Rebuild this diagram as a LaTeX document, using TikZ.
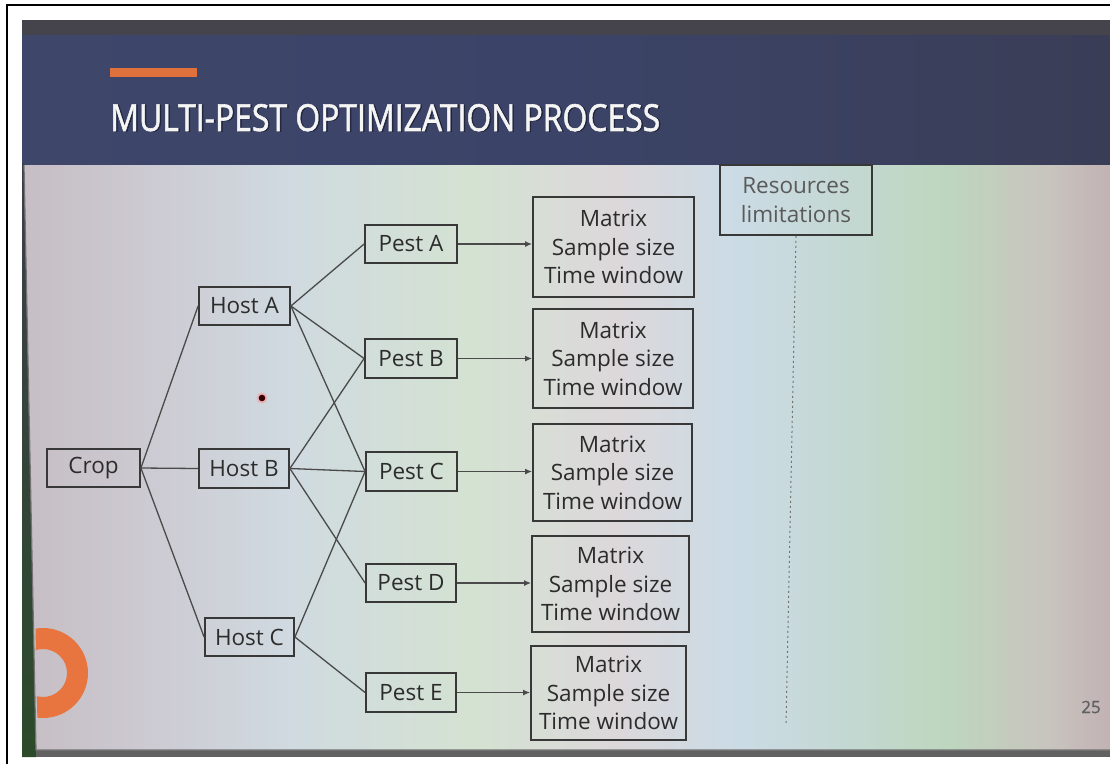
\documentclass[tikz,border=0pt]{standalone}
\usepackage{fontspec}
\setmainfont{Open Sans}
\newfontfamily\titlefont{Open Sans}[FakeBold=1.6]
\newfontfamily\numfont{Open Sans}[FakeBold=1.2]
\usetikzlibrary{arrows.meta}

% colours
\definecolor{frameblack}{HTML}{000000}
\definecolor{hdrtop}{HTML}{45434C}
\definecolor{hdrA}{HTML}{3E466A}
\definecolor{hdrB}{HTML}{3B4468}
\definecolor{hdrC}{HTML}{3A3D56}
\definecolor{accent}{HTML}{E0703C}
\definecolor{ringc}{HTML}{E8743F}
\definecolor{boxline}{HTML}{383838}
\definecolor{boxtext}{HTML}{2C2C2C}
\definecolor{linkc}{HTML}{4A4A4A}
\definecolor{softtext}{HTML}{5A5A5A}
\definecolor{bezelA}{HTML}{3E3E4A}
\definecolor{bezelB}{HTML}{2C4A2A}
\definecolor{bgA}{HTML}{C6BEC4}
\definecolor{bgB}{HTML}{CCC9D1}
\definecolor{bgC}{HTML}{D0DAE0}
\definecolor{bgD}{HTML}{D4E2D2}
\definecolor{bgE}{HTML}{DCD8DA}
\definecolor{bgF}{HTML}{CBDBE5}
\definecolor{bgG}{HTML}{C4D8D2}
\definecolor{bgH}{HTML}{BED6BE}
\definecolor{bgI}{HTML}{C8C4BE}
\definecolor{bgJ}{HTML}{C2B2B4}

\pgfdeclarehorizontalshading{slidebg}{100bp}{
  color(0bp)=(bgA); color(25bp)=(bgA); color(30.3bp)=(bgB);
  color(37.3bp)=(bgC); color(45.6bp)=(bgD); color(52.2bp)=(bgE);
  color(57.8bp)=(bgF); color(62.9bp)=(bgG); color(67.5bp)=(bgH);
  color(72.2bp)=(bgI); color(75bp)=(bgJ); color(100bp)=(bgJ)}
\pgfdeclarehorizontalshading{hdrbg}{100bp}{
  color(0bp)=(hdrA); color(25bp)=(hdrA); color(50bp)=(hdrB);
  color(75bp)=(hdrC); color(100bp)=(hdrC)}

\tikzset{
  box/.style={draw=boxline, line width=1.8pt, text=boxtext, inner sep=0pt,
    align=center, font=\fontsize{22.5}{28.5}\selectfont},
  smallbox/.style={box, minimum height=38.5pt},
  infobox/.style={box},
  link/.style={draw=linkc, line width=1.3pt},
  feed/.style={draw=linkc, line width=1.5pt, -{Latex[length=7pt,width=6pt]}},
}

\begin{document}
\begin{tikzpicture}[x=1pt,y=-1pt]
\useasboundingbox (0,0) rectangle (1110,764);
\fill[white] (0,0) rectangle (1110,764);

% outer frame lines
\draw[frameblack, line width=2.5pt] (7,764) -- (7,5) -- (1110,5);

% header band
\shade[shading=hdrbg] (22,20) rectangle (1110,165);
\fill[hdrtop] (22,20) rectangle (1110,35);
\fill[accent] (110,68) rectangle (197,77);
\node[anchor=base west, text=black, opacity=0.35, inner sep=0pt] at (111.5,131.5)
  {\resizebox{550pt}{27pt}{\titlefont\fontsize{36}{40}\selectfont MULTI-PEST OPTIMIZATION PROCESS}};
\node[anchor=base west, text=white!96!black, inner sep=0pt] (title) at (110,131)
  {\resizebox{550pt}{27pt}{\titlefont\fontsize{36}{40}\selectfont MULTI-PEST OPTIMIZATION PROCESS}};

% screen bezel on the left and below
\shade[top color=bezelA, bottom color=bezelB] (22,163) -- (24,163) -- (36,750) -- (36,757) -- (22,757) -- cycle;
\fill[black!62] (36,750) rectangle (1110,757);

% slide body
\shade[shading=slidebg] (24,165) -- (1110,165) -- (1110,750) -- (36,750) -- cycle;
\draw[black!55, line width=1.2pt] (24,165) -- (36,750) -- (1110,750);

% decorative ring
\begin{scope}
  \clip (26,165) -- (1110,165) -- (1110,750) -- (38,750) -- cycle;
  \fill[ringc, even odd rule] (43,673) circle (45) (43,673) circle (24);
\end{scope}

% small dot
\fill[red!40!white, opacity=0.6] (262,398) circle (5.5);
\fill[black!80!red] (262,398) circle (3.3);

% nodes
\node[smallbox, minimum width=93pt] (crop) at (93.5,468) {Crop};
\node[smallbox, minimum width=91pt] (hostA) at (244.5,306) {Host A};
\node[smallbox, minimum width=90pt] (hostB) at (244,468.5) {Host B};
\node[smallbox, minimum width=89pt] (hostC) at (249.5,637) {Host C};

\node[smallbox, minimum width=92pt] (pestA) at (411,244) {Pest A};
\node[smallbox, minimum width=92pt] (pestB) at (411,358.5) {Pest B};
\node[smallbox, minimum width=91pt] (pestC) at (411.5,471.5) {Pest C};
\node[smallbox, minimum width=90pt] (pestD) at (411,583) {Pest D};
\node[smallbox, minimum width=90pt] (pestE) at (411,692.5) {Pest E};

\node[infobox, minimum width=161pt, minimum height=100pt] (mA) at (613.5,247) {Matrix\\Sample size\\Time window};
\node[infobox, minimum width=160pt, minimum height=99pt] (mB) at (613,358.5) {Matrix\\Sample size\\Time window};
\node[infobox, minimum width=159pt, minimum height=97pt] (mC) at (612.5,472.5) {Matrix\\Sample size\\Time window};
\node[infobox, minimum width=157pt, minimum height=96pt] (mD) at (610.5,584) {Matrix\\Sample size\\Time window};
\node[infobox, minimum width=155pt, minimum height=94pt] (mE) at (608.5,693) {Matrix\\Sample size\\Time window};

\node[infobox, text=softtext, minimum width=152pt, minimum height=70pt] (res) at (796,200) {Resources\\limitations};
\coordinate (resend) at (786,725);
\draw[black!55, line width=1pt, dash pattern=on 2pt off 3pt] (res.south) -- (resend);

% page number
\node[text=black!62, font=\numfont\fontsize{17}{17}\selectfont] (pagenum) at (1091,707) {25};

% connections
\draw[link] (crop.east) -- (hostA.west);
\draw[link] (crop.east) -- (hostB.west);
\draw[link] (crop.east) -- (hostC.west);

\draw[link] (hostA.east) -- (pestA.west);
\draw[link] (hostA.east) -- (pestB.west);
\draw[link] (hostA.east) -- (pestC.west);
\draw[link] (hostB.east) -- (pestB.west);
\draw[link] (hostB.east) -- (pestC.west);
\draw[link] (hostB.east) -- (pestD.west);
\draw[link] (hostC.east) -- (pestC.west);
\draw[link] (hostC.east) -- (pestE.west);

\draw[feed] (pestA.east) -- (pestA.east -| mA.west);
\draw[feed] (pestB.east) -- (pestB.east -| mB.west);
\draw[feed] (pestC.east) -- (pestC.east -| mC.west);
\draw[feed] (pestD.east) -- (pestD.east -| mD.west);
\draw[feed] (pestE.east) -- (pestE.east -| mE.west);
\end{tikzpicture}
\end{document}
